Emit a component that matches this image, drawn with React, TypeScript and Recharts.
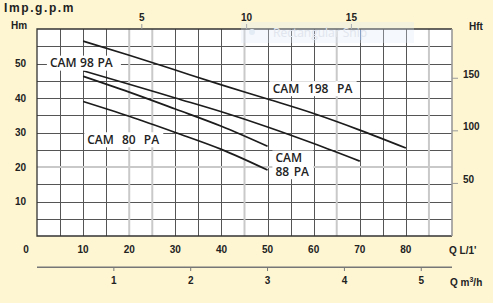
import React from 'react';
import { LineChart, Line, XAxis, YAxis, ReferenceDot } from 'recharts';

// flow in L/min where each curve was read
const Q_POINTS = [10, 20, 30, 40, 50, 60, 70, 80];
// head in m
const CAM_198_PA = [56.5, 52.4, 48.1, 43.8, 39.7, 35.5, 30.7, 25.5];
const CAM_98_PA = [47.9, 44.0, 40.0, 36.0, 31.6, 26.8, 21.7];
const CAM_88_PA = [46.3, 41.7, 36.8, 31.8, 26.0];
const CAM_80_PA = [39.0, 34.7, 30.0, 25.1, 19.1];

const Q_TICKS = [0, 10, 20, 30, 40, 50, 60, 70, 80];
const M3H_TICKS = [1, 2, 3, 4, 5];
const GPM_TICKS = [5, 10, 15];
const HM_TICKS = [10, 20, 30, 40, 50];
const HFT_TICKS = [50, 100, 150];

const GRID_Q = [5, 10, 15, 20, 25, 30, 35, 40, 45, 50, 55, 60, 65, 70, 75, 80, 85];
const GRID_H = [5, 10, 15, 20, 25, 30, 35, 40, 45, 50, 55];
const GRAY_Q = [20, 25, 45, 65, 85];
const GRAY_H = [20];

const Q_MAX = 90;
const H_MAX = 60;

const rows = Q_POINTS.map((q, i) => ({
  q,
  cam198: CAM_198_PA[i],
  cam98: CAM_98_PA[i],
  cam88: CAM_88_PA[i],
  cam80: CAM_80_PA[i],
}));

const LABELS = [
  { lines: ['CAM 98 PA'], q: 2.8, h: 50.1, w: 68, ws: 0.5 },
  { lines: ['CAM 80 PA'], q: 10.9, h: 27.9, w: 73, ws: 5 },
  { lines: ['CAM 198 PA'], q: 51.1, h: 42.7, w: 81, ws: 5.5 },
  { lines: ['CAM', '88 PA'], q: 51.7, h: 22.6, w: 35, ws: 1.5 },
];

const BG = '#FEF6D3';
const INK = '#222';
const NUM_FONT = 'Liberation Sans, Arial, sans-serif';
const LABEL_FONT = '"Open Sans", "Noto Sans", sans-serif';
const W = 493;
const H = 303;
const layer: React.CSSProperties = { position: 'absolute', left: 0, top: 0 };

// plot box shared by both charts (margins below give the same box)
const PX0 = 37;
const PX1 = 452;
const PY0 = 29;
const PY1 = 236;
const sx = (q: number) => PX0 + (q / Q_MAX) * (PX1 - PX0);
const sy = (h: number) => PY1 - (h / H_MAX) * (PY1 - PY0);

const numTick = (dx: number, dy: number, anchor: string, zeroDx = 0) => (p: any) => (
  <text
    x={p.x + dx + (p.payload.value === 0 ? zeroDx : 0)}
    y={p.y + dy}
    textAnchor={anchor}
    fontFamily={NUM_FONT}
    fontSize={10}
    fontWeight={600}
    fill={INK}
  >
    {p.payload.value}
  </text>
);

const curveLabel = (lab: any) => (p: any) => {
  const lh = 13.7;
  const n = lab.lines.length;
  return (
    <g>
      <rect
        x={p.cx - 3}
        y={p.cy - 7.5}
        width={lab.w + 6}
        height={15 + (n - 1) * lh}
        fill="#fff"
      />
      {lab.lines.map((t: string, i: number) => (
        <text
          key={t}
          x={p.cx}
          y={p.cy + 4.3 + i * lh}
          fontFamily={LABEL_FONT}
          fontSize={12}
          fontWeight={600}
          fill={INK}
          style={{ wordSpacing: lab.ws }}
        >
          {t}
        </text>
      ))}
    </g>
  );
};

export default function App() {
  return (
    <div style={{ position: 'absolute', left: 0, top: 0, width: W, height: H, background: BG }}>
      {/* paper: white plot box and grid */}
      <svg width={W} height={H} style={layer}>
        <rect x={PX0} y={PY0} width={PX1 - PX0} height={PY1 - PY0} fill="#fff" />
        {GRID_Q.filter((v) => !GRAY_Q.includes(v)).map((v) => (
          <line key={'q' + v} x1={Math.round(sx(v)) + 0.5} x2={Math.round(sx(v)) + 0.5} y1={PY0} y2={PY1} stroke="#555" />
        ))}
        {GRID_H.filter((v) => !GRAY_H.includes(v)).map((v) => (
          <line key={'h' + v} x1={PX0} x2={PX1} y1={Math.round(sy(v)) + 0.5} y2={Math.round(sy(v)) + 0.5} stroke="#555" />
        ))}
        {GRAY_Q.map((v) => (
          <line key={'gq' + v} x1={sx(v)} x2={sx(v)} y1={PY0} y2={PY1} stroke="#c9c9c9" strokeWidth={2} />
        ))}
        {GRAY_H.map((v) => (
          <line key={'gh' + v} x1={PX0} x2={PX1} y1={sy(v)} y2={sy(v)} stroke="#c9c9c9" strokeWidth={2} />
        ))}
        <path d={`M${PX1},${PY0}H${PX0}V${PY1}H${PX1}`} fill="none" stroke="#333" strokeWidth={1.3} />
        <line x1={PX1} x2={PX1} y1={PY0} y2={PY1} stroke="#999" strokeWidth={1.6} />

        <text x={4} y={12} fontFamily={NUM_FONT} fontSize={12} fontWeight={700} letterSpacing={1.6} fill={INK}>
          Imp.g.p.m
        </text>
        <text x={11} y={28.5} fontFamily={NUM_FONT} fontSize={10} fontWeight={600} fill={INK}>
          Hm
        </text>
        <text x={469} y={29.5} fontFamily={NUM_FONT} fontSize={10} fontWeight={600} fill={INK}>
          Hft
        </text>
        <text x={449} y={253.5} fontFamily={NUM_FONT} fontSize={10} fontWeight={600} fill={INK}>
          Q L/1'
        </text>
        <text x={450} y={285.5} fontFamily={NUM_FONT} fontSize={10} fontWeight={600} fill={INK}>
          Q m
          <tspan dy={-4} fontSize={7}>3</tspan>
          <tspan dy={4}>/h</tspan>
        </text>
        <line x1={PX0} x2={PX1} y1={267.5} y2={267.5} stroke="#777" />
      </svg>

      {/* curves and their labels */}
      <div style={layer}>
        <LineChart
          width={W}
          height={H}
          data={rows}
          margin={{ top: PY0, right: W - PX1, bottom: H - PY1, left: PX0 }}
        >
          <XAxis xAxisId="a" dataKey="q" type="number" domain={[0, Q_MAX]} allowDataOverflow hide />
          <YAxis yAxisId="h" type="number" domain={[0, H_MAX]} allowDataOverflow hide />
          {LABELS.map((lab) => (
            <ReferenceDot
              key={lab.lines.join()}
              xAxisId="a"
              yAxisId="h"
              x={lab.q}
              y={lab.h}
              r={1}
              shape={curveLabel(lab)}
            />
          ))}
          {['cam198', 'cam98', 'cam88', 'cam80'].map((k) => (
            <Line
              key={k}
              xAxisId="a"
              yAxisId="h"
              dataKey={k}
              type="monotone"
              stroke="#1c1c1c"
              strokeWidth={1.7}
              dot={false}
              activeDot={false}
              isAnimationActive={false}
            />
          ))}
        </LineChart>
      </div>

      {/* unit axes around the same plot box */}
      <div style={layer}>
        <LineChart
          width={W}
          height={H}
          data={rows}
          margin={{ top: 9, right: 6, bottom: 0, left: 7 }}
        >
          <XAxis
            xAxisId="b"
            dataKey="q"
            type="number"
            domain={[0, (Q_MAX * 60) / 1000]}
            allowDataOverflow
            ticks={M3H_TICKS}
            height={36}
            axisLine={{ stroke: '#777' }}
            tickLine={{ stroke: '#777' }}
            tickSize={4}
            tickMargin={0}
            tick={numTick(0, 12.6, 'middle')}
          />
          <XAxis
            xAxisId="a"
            dataKey="q"
            type="number"
            domain={[0, Q_MAX]}
            allowDataOverflow
            ticks={Q_TICKS}
            height={31}
            axisLine={false}
            tickLine={false}
            tickSize={0}
            tickMargin={0}
            tick={numTick(0, 17, 'middle', -11)}
          />
          <XAxis
            xAxisId="gpm"
            dataKey="q"
            type="number"
            orientation="top"
            domain={[0, Q_MAX / 4.546]}
            allowDataOverflow
            ticks={GPM_TICKS}
            height={20}
            axisLine={false}
            tickLine={{ stroke: '#999' }}
            tickSize={5}
            tickMargin={0}
            tick={numTick(0, -3.4, 'middle')}
          />
          <YAxis
            yAxisId="h"
            type="number"
            domain={[0, H_MAX]}
            allowDataOverflow
            ticks={HM_TICKS}
            width={30}
            axisLine={false}
            tickLine={false}
            tickSize={0}
            tickMargin={11}
            tick={numTick(0, 3.6, 'end')}
          />
          <YAxis
            yAxisId="ft"
            orientation="right"
            type="number"
            domain={[0, H_MAX * 3.2808]}
            allowDataOverflow
            ticks={HFT_TICKS}
            width={35}
            axisLine={false}
            tickLine={{ stroke: '#999' }}
            tickSize={6}
            tickMargin={5}
            tick={numTick(0, -0.4, 'start')}
          />
        </LineChart>
      </div>

      <svg width={W} height={H} style={{ ...layer, pointerEvents: 'none' }}>
        <rect x={241} y={22} width={173} height={21} fill="#dfe9f6" fillOpacity={0.3} />
        <circle cx={252} cy={32} r={3} fill="#e3ebf5" />
        <text x={273} y={36.5} fontFamily={LABEL_FONT} fontSize={12} fill="#e0e5ee">
          Rectangular Snip
        </text>
      </svg>
    </div>
  );
}
